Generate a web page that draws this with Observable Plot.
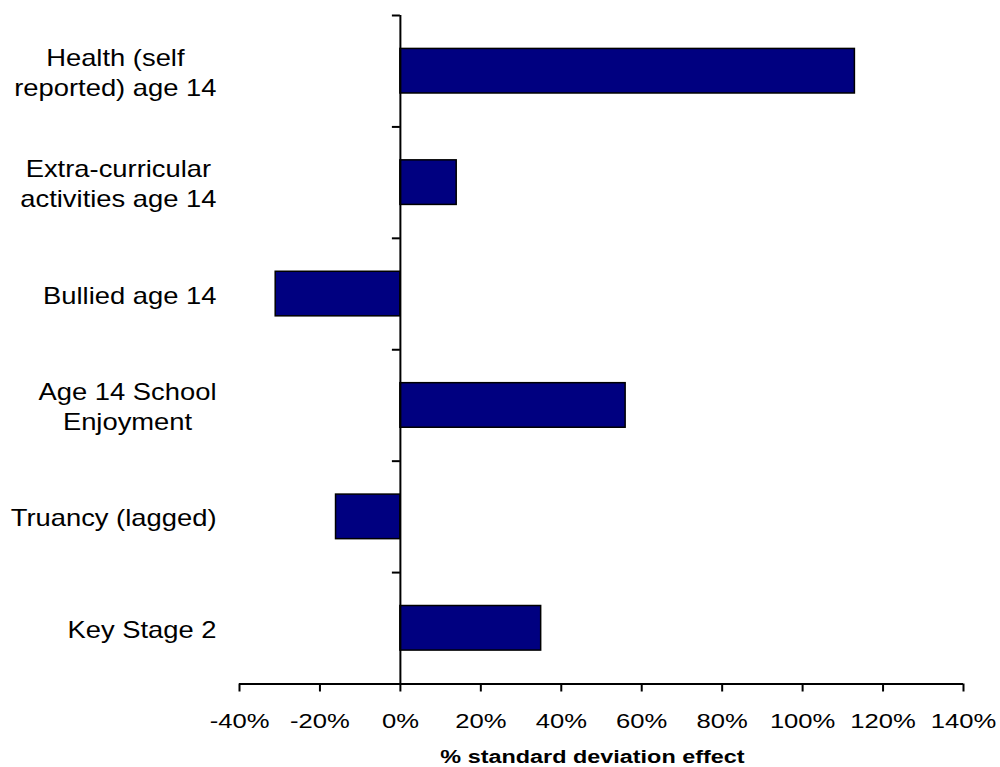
<!DOCTYPE html>
<html><head><meta charset="utf-8">
<script src="https://cdn.jsdelivr.net/npm/d3@7"></script>
<script src="https://cdn.jsdelivr.net/npm/@observablehq/plot@0.6"></script>
<style>body{margin:0;background:#fff;} svg{display:block;}</style>
</head><body><div id="chart"></div>
<script>
const categories = ["Health (self\nreported) age 14", "Extra-curricular\nactivities age 14", "Bullied age 14", "Age 14 School\nEnjoyment", "Truancy (lagged)", "Key Stage 2"];
const values = [1.13, 0.14, -0.31, 0.56, -0.16, 0.35];
const xTicks = [-0.4, -0.2, 0, 0.2, 0.4, 0.6, 0.8, 1.0, 1.2, 1.4];
const axisTitle = "% standard deviation effect";

const data = categories.map((c, i) => ({category: c, value: values[i], slot: i}));
const bounds = d3.range(categories.length + 1);
const barPad = 0.3;
const pct = d => Math.round(d * 100) + "%";

const plot = Plot.plot({
  width: 1000, height: 767,
  marginTop: 15, marginBottom: 83.5, marginLeft: 239, marginRight: 37,
  style: {fontFamily: "'Liberation Sans', Arial, sans-serif", background: "#fff", color: "#000"},
  x: {domain: [-0.4, 1.4]},
  y: {domain: [0, categories.length], reverse: true, axis: null},
  marks: [
    Plot.rect(data, {x1: 0, x2: "value", y1: d => d.slot + barPad, y2: d => d.slot + 1 - barPad, fill: "#000080", stroke: "#000", strokeWidth: 1.5}),
    Plot.ruleX([0], {stroke: "#000", strokeWidth: 2}),
    Plot.ruleY(bounds, {x1: 0, x2: 0, insetLeft: -8, stroke: "#000", strokeWidth: 2}),
    Plot.ruleY([categories.length], {stroke: "#000", strokeWidth: 2}),
    Plot.axisX({ticks: xTicks, tickFormat: pct, tickSize: 8, tickPadding: 22, fontSize: 20, strokeWidth: 2, label: null}),
    Plot.text(data, {text: "category", y: d => d.slot + 0.5, frameAnchor: "left", dx: -23, textAnchor: "end", lineHeight: 1.25, fontSize: 24, fill: "#000"}),
    Plot.text([axisTitle], {text: d => d, frameAnchor: "bottom", dy: 79, dx: -9, fontWeight: "bold", fontSize: 18, fill: "#000"})
  ]
});
document.getElementById("chart").appendChild(plot);

function stretch(textEl, factor, centerLines) {
  const spans = textEl.querySelectorAll("tspan");
  const parts = spans.length ? Array.from(spans) : [textEl];
  const widths = parts.map(p => p.getComputedTextLength());
  const maxW = Math.max(...widths) * factor;
  parts.forEach((p, i) => {
    p.setAttribute("textLength", widths[i] * factor);
    p.setAttribute("lengthAdjust", "spacingAndGlyphs");
  });
  if (centerLines && spans.length > 1) {
    textEl.setAttribute("text-anchor", "middle");
    parts.forEach(p => p.setAttribute("x", -maxW / 2));
  }
}
plot.querySelectorAll('g[aria-label="x-axis tick label"] text').forEach(t => stretch(t, 1.28, false));
plot.querySelectorAll('g[aria-label="text"] text').forEach(t => {
  if (t.textContent === axisTitle) stretch(t, 1.3, false);
  else stretch(t, 1.14, true);
});
</script>
</body></html>
